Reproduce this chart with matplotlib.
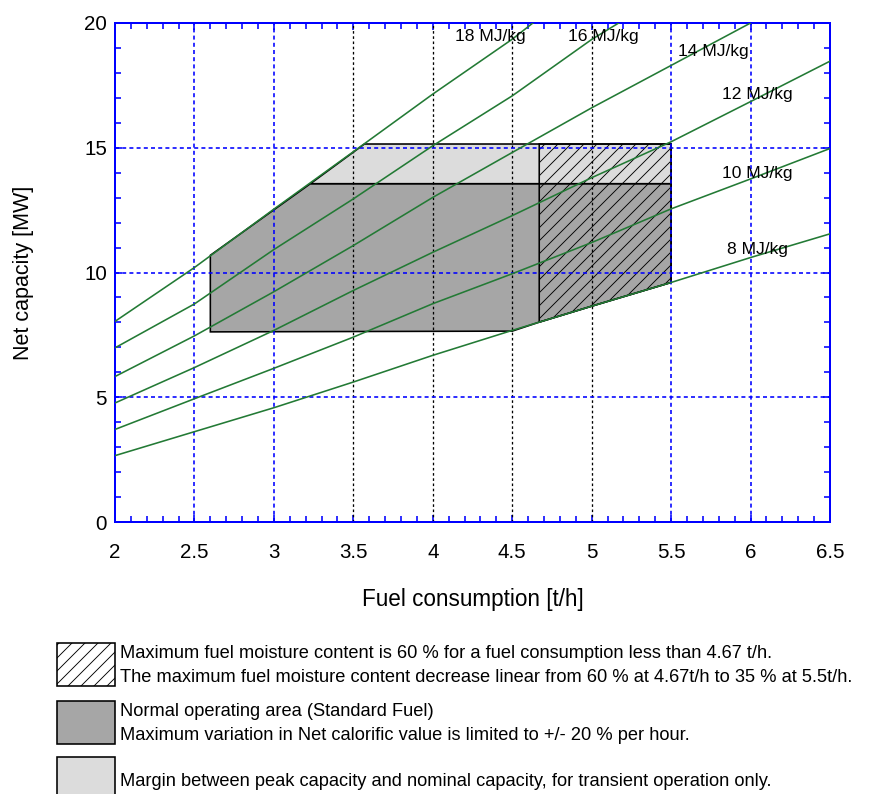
import matplotlib
matplotlib.use("Agg")
import numpy as np
import matplotlib.pyplot as plt
from matplotlib.patches import Polygon, Rectangle
from matplotlib.ticker import MultipleLocator, FuncFormatter

# ---- data ----
fuel_tph = [2.0, 2.5, 3.0, 3.5, 4.0, 4.5, 5.0, 5.5, 6.0, 6.5]

# net capacity [MW] along each calorific value curve (clipped at 20 MW on top)
cv_curves = {
    "8 MJ/kg": (fuel_tph, [2.66, 3.62, 4.58, 5.61, 6.68, 7.68, 8.65, 9.60, 10.60, 11.55]),
    "10 MJ/kg": (fuel_tph, [3.71, 4.94, 6.16, 7.41, 8.75, 9.95, 11.20, 12.55, 13.75, 14.97]),
    "12 MJ/kg": (fuel_tph, [4.77, 6.19, 7.68, 9.28, 10.81, 12.28, 13.80, 15.24, 16.85, 18.47]),
    "14 MJ/kg": ([2.0, 2.5, 3.0, 3.5, 4.0, 4.5, 5.0, 5.5, 6.0],
                 [5.83, 7.46, 9.23, 11.08, 13.01, 14.81, 16.60, 18.30, 20.0]),
    "16 MJ/kg": ([2.0, 2.5, 3.0, 3.5, 4.0, 4.5, 5.0, 5.17],
                 [6.98, 8.74, 10.92, 12.95, 15.08, 17.08, 19.34, 20.0]),
    "18 MJ/kg": ([2.0, 2.5, 3.0, 3.5, 4.0, 4.5, 4.63],
                 [8.04, 10.20, 12.54, 14.84, 17.15, 19.35, 20.0]),
}

# label anchor (left edge, vertical centre) for each curve
label_pos = {
    "18 MJ/kg": (4.14, 19.45),
    "16 MJ/kg": (4.85, 19.45),
    "14 MJ/kg": (5.545, 18.85),
    "12 MJ/kg": (5.82, 17.15),
    "10 MJ/kg": (5.82, 13.95),
    "8 MJ/kg": (5.85, 10.93),
}

# operating regions (fuel t/h, MW)
normal_x = [2.6, 2.6, 3.23, 5.5, 5.5, 5.0, 4.67, 4.5, 2.6]
normal_y = [7.62, 10.69, 13.56, 13.56, 9.60, 8.65, 8.01, 7.65, 7.62]
margin_x = [3.23, 3.57, 5.5, 5.5]
margin_y = [13.56, 15.15, 15.15, 13.56]
moisture_x = [4.67, 4.67, 5.5, 5.5, 5.0]
moisture_y = [8.01, 15.15, 15.15, 9.60, 8.65]

blue_grid_x = [2.5, 3.0, 5.5, 6.0]
black_grid_x = [3.5, 4.0, 4.5, 5.0]
grid_y = [5, 10, 15]

legend_lines = [
    ["Maximum fuel moisture content is 60 % for a fuel consumption less than 4.67 t/h.",
     "The maximum fuel moisture content decrease linear from 60 % at 4.67t/h to 35 % at 5.5t/h."],
    ["Normal operating area (Standard Fuel)",
     "Maximum variation in Net calorific value is limited to +/- 20 % per hour."],
    ["Margin between peak capacity and nominal capacity, for transient operation only."],
]

# ---- styling ----
DPI = 78
W, H = 876, 794
PT = 72.0 / DPI  # points per pixel

DARK = "#a6a6a6"
LIGHT = "#dcdcdc"
GREEN = "#237a35"
BLUE = "#0000ff"

plt.rcParams["hatch.linewidth"] = 0.9 * PT
plt.rcParams["font.family"] = ["Liberation Sans", "DejaVu Sans"]


def fig_xy(x_px, y_px):
    return x_px / W, 1 - y_px / H


fig = plt.figure(figsize=(W / DPI, H / DPI), dpi=DPI)
fig.patch.set_facecolor("white")
ax = fig.add_axes([115 / W, 1 - 522 / H, (830 - 115) / W, (522 - 23) / H])

# regions
ax.add_patch(Polygon(np.column_stack([normal_x, normal_y]), closed=True,
                     facecolor=DARK, edgecolor="black", lw=1.6 * PT, zorder=1))
ax.add_patch(Polygon(np.column_stack([margin_x, margin_y]), closed=True,
                     facecolor=LIGHT, edgecolor="black", lw=1.6 * PT, zorder=1))
ax.add_patch(Polygon(np.column_stack([moisture_x, moisture_y]), closed=True,
                     facecolor="none", edgecolor="black", hatch="//", lw=1.6 * PT, zorder=1.5))

# grid
for gx in blue_grid_x:
    ax.axvline(gx, color=BLUE, lw=1.6 * PT, ls=(0, (2.5, 2)), zorder=2)
for gx in black_grid_x:
    ax.axvline(gx, color="black", lw=1.3 * PT, ls=(0, (2, 2)), zorder=2)
for gy in grid_y:
    ax.axhline(gy, color=BLUE, lw=1.6 * PT, ls=(0, (2.5, 2)), zorder=2)

# calorific value curves
for name, (xs, ys) in cv_curves.items():
    ax.plot(xs, ys, color=GREEN, lw=1.6 * PT, zorder=3)
    lx, ly = label_pos[name]
    ax.text(lx, ly, name, fontsize=17.5 * PT, ha="left", va="center", zorder=4)

ax.set_xlim(2, 6.5)
ax.set_ylim(0, 20)
ax.xaxis.set_major_locator(MultipleLocator(0.5))
ax.xaxis.set_minor_locator(MultipleLocator(0.1))
ax.yaxis.set_major_locator(MultipleLocator(5))
ax.yaxis.set_minor_locator(MultipleLocator(1))
ax.xaxis.set_major_formatter(FuncFormatter(lambda v, p: "%g" % v))
ax.tick_params(which="both", direction="in", top=True, right=True,
               color=BLUE, width=1.6 * PT, labelsize=20.5 * PT)
ax.tick_params(which="major", length=7 * PT)
ax.tick_params(which="minor", length=6 * PT)
ax.tick_params(axis="x", pad=21 * PT)
ax.tick_params(axis="y", pad=8 * PT)
for sp in ax.spines.values():
    sp.set_color(BLUE)
    sp.set_linewidth(2 * PT)

ax.set_xlabel("Fuel consumption [t/h]", fontsize=22.5 * PT, labelpad=26 * PT)
ax.set_ylabel("Net capacity [MW]", fontsize=21.5 * PT, labelpad=50 * PT)

# legend drawn below the plot
key_styles = [
    dict(facecolor="white", edgecolor="black", hatch="//"),
    dict(facecolor=DARK, edgecolor="black"),
    dict(facecolor=LIGHT, edgecolor="black"),
]
row_tops = [643, 701, 757]
for top, style, lines in zip(row_tops, key_styles, legend_lines):
    x0, y0 = fig_xy(57, top + 43)
    fig.add_artist(Rectangle((x0, y0), 58 / W, 43 / H, transform=fig.transFigure,
                             lw=1.6 * PT, **style))
    if len(lines) == 2:
        centres = [top + 10, top + 34]
    else:
        centres = [top + 24]
    for txt, cy in zip(lines, centres):
        tx, ty = fig_xy(120, cy)
        fig.text(tx, ty, txt, fontsize=18.3 * PT, ha="left", va="center")

fig.savefig("out.png", dpi=DPI, facecolor="white")
